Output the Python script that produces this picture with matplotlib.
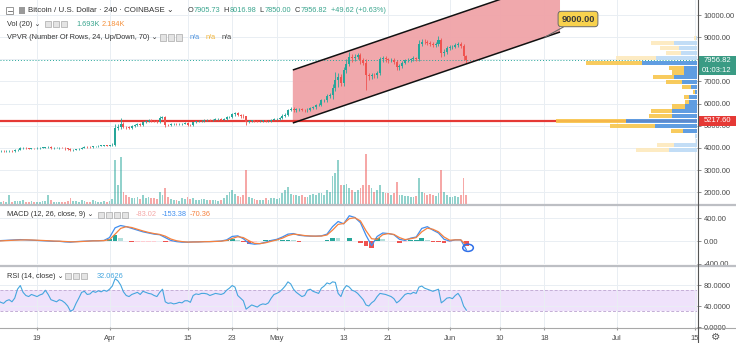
import numpy as np
import pandas as pd
import matplotlib
matplotlib.use("Agg")
import matplotlib.pyplot as plt
import matplotlib.dates as mdates
from matplotlib.patches import Rectangle, Ellipse, Polygon

plt.rcParams['font.family'] = ['Liberation Sans', 'DejaVu Sans']

W, H = 736, 343

# --- BTC/USD 12h candles, 2019-03-12 .. 2019-06-04 ---
first_open = 3860
closes = [
    3870, 3880, 3860, 3870, 3880, 3860, 3900, 3920, 3990, 4000,
    3980, 3970, 3990, 3980, 4000, 4010, 4020, 4030, 4050, 3990,
    4000, 4000, 4010, 4005, 3990, 3970, 3900, 3920, 3940, 3960,
    4010, 4050, 4040, 4030, 4080, 4090, 4100, 4110, 4110, 4100,
    4120, 4150, 4900, 4950, 5100, 4950, 4930, 4910, 5000, 5030,
    5060, 5050, 5180, 5200, 5250, 5230, 5200, 5180, 5350, 5380,
    5050, 5040, 5070, 5080, 5070, 5070, 5100, 5140, 5050, 5020,
    5150, 5200, 5220, 5230, 5260, 5270, 5250, 5270, 5300, 5310,
    5280, 5300, 5380, 5400, 5520, 5580, 5500, 5450, 5420, 5180,
    5220, 5250, 5230, 5220, 5220, 5240, 5200, 5220, 5280, 5300,
    5320, 5340, 5450, 5500, 5700, 5780, 5700, 5750, 5760, 5720,
    5700, 5730, 5820, 5840, 5930, 5960, 6150, 6170, 6350, 6380,
    6700, 7050, 7200, 6950, 7500, 7800, 8100, 8050, 8100, 8200,
    7950, 7850, 7300, 7250, 7300, 7270, 7400, 8000, 8050, 8000,
    7950, 7980, 7900, 7650, 7700, 7850, 7950, 7980, 8000, 8050,
    8020, 8700, 8800, 8780, 8750, 8700, 8650, 8680, 8850, 8300,
    8350, 8500, 8550, 8570, 8650, 8700, 8600, 8150, 7956.82,
]
# wick length above / below the candle body
wick_hi = [
    30, 20, 25, 20, 30, 25, 35, 20, 40, 30, 25, 20, 30, 25, 40, 30, 20, 25, 30, 20,
    25, 30, 40, 20, 25, 30, 35, 20, 25, 30, 20, 25, 30, 40, 25, 20, 30, 25, 20, 30,
    30, 60, 180, 130, 250, 80, 60, 50, 50, 40, 60, 50, 40, 50, 60, 40, 50, 40, 90, 60,
    40, 30, 40, 30, 50, 40, 30, 40, 50, 30, 40, 30, 30, 40, 30, 30, 40, 30, 30, 40,
    30, 40, 50, 60, 70, 50, 40, 40, 60, 40, 40, 30, 30, 30, 40, 30, 30, 40, 40, 30,
    30, 50, 60, 80, 80, 60, 50, 40, 60, 50, 50, 60, 40, 50, 60, 50, 80, 60, 100, 80,
    200, 380, 200, 120, 150, 200, 230, 150, 120, 100, 100, 120, 150, 100, 100, 80, 80, 100, 120, 100,
    80, 100, 100, 80, 90, 80, 70, 80, 80, 90, 60, 150, 120, 100, 100, 80, 90, 80, 220, 100,
    120, 100, 90, 80, 100, 90, 80, 100, 60,
]
wick_lo = [
    20, 30, 25, 20, 30, 20, 25, 30, 20, 25, 30, 20, 25, 30, 20, 40, 30, 25, 20, 30,
    25, 20, 30, 25, 60, 50, 30, 25, 20, 30, 25, 20, 30, 25, 20, 30, 25, 20, 30, 25,
    30, 40, 60, 100, 100, 70, 60, 50, 50, 40, 50, 40, 40, 50, 40, 40, 50, 40, 40, 50,
    120, 40, 40, 40, 30, 40, 40, 30, 80, 40, 40, 30, 30, 30, 40, 30, 30, 40, 30, 30,
    40, 30, 30, 40, 40, 60, 60, 80, 60, 140, 60, 50, 40, 50, 40, 40, 50, 40, 30, 40,
    30, 40, 40, 50, 60, 50, 60, 80, 70, 60, 60, 70, 50, 60, 60, 50, 80, 90, 90, 100,
    150, 120, 300, 150, 150, 100, 120, 150, 130, 100, 150, 120, 700, 200, 150, 120, 120, 100, 100, 120,
    100, 90, 120, 150, 120, 100, 80, 90, 90, 80, 100, 90, 100, 90, 100, 110, 100, 90, 100, 200,
    150, 100, 90, 90, 80, 90, 100, 200, 110,
]
volume_k = [
    1.0, 0.8, 0.9, 0.7, 2.8, 0.8, 1.0, 0.9, 1.0, 1.3,
    0.8, 0.7, 0.9, 0.8, 0.8, 0.7, 1.0, 0.9, 3.0, 1.2,
    0.8, 0.7, 0.7, 0.6, 0.8, 1.0, 2.0, 1.1, 1.0, 0.8,
    1.3, 1.1, 0.8, 0.7, 1.3, 1.0, 0.8, 0.7, 0.9, 0.8,
    1.0, 1.5, 14.0, 6.0, 15.0, 4.0, 3.0, 2.2, 2.0, 1.8,
    2.4, 1.5, 2.8, 1.8, 2.2, 1.8, 2.0, 1.6, 4.0, 3.0,
    5.0, 2.2, 1.6, 1.4, 1.2, 1.1, 2.0, 1.5, 2.4, 1.6,
    1.9, 1.4, 1.4, 1.7, 1.6, 1.3, 1.3, 1.2, 1.2, 1.1,
    1.4, 2.0, 3.0, 4.0, 4.5, 3.2, 2.6, 2.2, 3.0, 11.0,
    2.4, 2.0, 1.6, 1.4, 1.4, 1.3, 1.9, 1.4, 1.8, 1.9,
    1.6, 2.0, 3.5, 4.5, 5.5, 3.2, 3.0, 2.8, 2.6, 3.0,
    2.4, 2.2, 2.8, 3.2, 3.0, 3.4, 3.5, 3.0, 4.5, 4.0,
    9.0, 10.0, 14.0, 6.0, 6.0, 6.5, 5.0, 4.5, 4.0, 4.5,
    5.0, 6.0, 16.0, 6.0, 5.0, 4.0, 4.5, 6.0, 4.0, 3.5,
    3.5, 3.0, 3.5, 7.0, 3.0, 2.8, 2.5, 2.6, 2.2, 2.4,
    2.5, 8.5, 4.0, 3.5, 3.0, 3.2, 2.8, 2.6, 3.5, 11.0,
    4.0, 3.0, 2.4, 2.2, 2.6, 2.4, 2.8, 8.5, 3.0,
]
rsi = [
    50, 47, 45, 50, 52, 48, 55, 72, 79, 66,
    60, 58, 62, 60, 58, 61, 63, 70, 62, 52,
    50, 48, 52, 50, 46, 40, 30, 33, 45, 55,
    66, 68, 62, 63, 68, 66, 69, 67, 70, 68,
    72, 78, 92, 88, 80, 67, 60, 58, 62, 64,
    66, 62, 68, 66, 64, 63, 60, 58, 66, 72,
    48, 45, 46, 44, 45, 47, 46, 50, 50, 47,
    60, 63, 62, 64, 64, 63, 60, 62, 64, 63,
    62, 64, 70, 74, 79, 76, 60, 55, 50, 34,
    38, 42, 40, 38, 42, 44, 43, 46, 55, 62,
    64, 67, 72, 78, 86, 82, 72, 66, 62, 58,
    60, 70, 72, 68, 66, 64, 74, 78, 84, 82,
    86, 85, 64, 58, 72, 79, 76, 70, 68, 64,
    58, 52, 42, 40, 46, 50, 58, 64, 63, 62,
    60, 58, 54, 46, 50, 56, 62, 64, 63, 66,
    64, 76, 78, 74, 72, 70, 68, 70, 72, 46,
    50, 55, 56, 54, 60, 64, 56, 40, 32.0626,
]

# --- MACD (12, 26, close, 9), daily points ---
macd_line = [
    5, 10, 15, 20, 25, 20, 15, 10, 5, 0,
    -5, -5, -15, -20, -10, -5, 0, 5, 5, 10,
    60, 230, 270, 250, 220, 190, 160, 140, 120, 110,
    60, 10, -10, -20, -20, -15, -15, -10, -10, -5,
    0, 20, 80, 90, 40, -40, -55, -45, -20, 10,
    30, 70, 120, 130, 100, 90, 85, 85, 90, 120,
    250, 340, 300, 440, 410, 320, 100, -80, 80, 140,
    130, 110, 30, 10, 50, 70, 220, 250, 190, 140,
    30, 0, 20, 20, -153.38,
]
signal_line = [
    0, 5, 10, 15, 18, 20, 18, 14, 10, 5,
    0, -3, -8, -13, -13, -8, -3, 2, 4, 7,
    25, 120, 220, 250, 235, 205, 175, 150, 130, 115,
    85, 35, 5, -10, -18, -17, -15, -12, -10, -7,
    -3, 10, 45, 75, 60, 5, -40, -45, -30, -5,
    20, 50, 95, 120, 110, 95, 88, 85, 87, 105,
    190, 290, 305, 390, 405, 350, 180, 40, 30, 110,
    130, 115, 60, 25, 40, 60, 160, 225, 205, 160,
    70, 15, 20, 20, -70.36,
]

# --- VPVR, 24 rows from high to low: up / down volume per row ---
vp_up = [1, 23, 18, 16, 41, 55, 13, 13, 23, 15, 6, 2, 8, 8, 12, 25, 25, 71, 42, 14, 2, 1, 23, 28]
vp_down = [2, 23, 19, 15, 40, 56, 15, 12, 21, 16, 9, 2, 5, 4, 13, 21, 23, 70, 45, 12, 0, 0, 17, 33]
vp_value_area = [False] * 5 + [True] * 15 + [False] * 4
vp_low, vp_high = 3784, 9054

# --- drawings ---
hline_price = 5217.60
last_price = 7956.82
channel_dates = ["2019-05-03 21:00", "2019-06-20 19:00"]
channel_lower = [5126, 9233]
channel_upper = [7518, 11625]
target_price = 9000.00

candle_dates = pd.date_range("2019-03-12", periods=len(closes), freq="12h")
macd_dates = pd.date_range("2019-03-12", periods=len(macd_line), freq="D")
tick_dates = ["2019-03-19", "2019-04-01", "2019-04-15", "2019-04-23", "2019-05-01", "2019-05-13",
              "2019-05-21", "2019-06-01", "2019-06-10", "2019-06-18", "2019-07-01", "2019-07-15"]
tick_labels = ["19", "Apr", "15", "23", "May", "13", "21", "Jun", "10", "18", "Jul", "15"]

UP = "#26a69a"
DOWN = "#ef5350"
GRID = "#e9eef3"
AXTXT = "#4a4a4a"
FS = 5.5
LEG = 5.3


def fbox(x0, y0, x1, y1):
    return [x0 / W, 1 - y1 / H, (x1 - x0) / W, (y1 - y0) / H]


def ftext(x, y, s, color=AXTXT, size=LEG, **kw):
    return fig.text(x / W, 1 - y / H, s, color=color, fontsize=size, va="center", **kw)


def frect(x0, y0, x1, y1, fc, ec="none", lw=0.6):
    fig.add_artist(Rectangle((x0 / W, 1 - y1 / H), (x1 - x0) / W, (y1 - y0) / H,
                             transform=fig.transFigure, fc=fc, ec=ec, lw=lw))


def fline(x0, y0, x1, y1, color, lw):
    fig.add_artist(plt.Line2D([x0 / W, x1 / W], [1 - y0 / H, 1 - y1 / H],
                              transform=fig.transFigure, color=color, lw=lw))


def icons(x, y, n):
    for k in range(n):
        frect(x + k * 8, y - 3, x + k * 8 + 6, y + 3, "#e4e4e4", "#a9a9a9", 0.5)


fig = plt.figure(figsize=(W / 100, H / 100), dpi=100)
ax = fig.add_axes(fbox(0, 0, 697, 204))
ax_macd = fig.add_axes(fbox(0, 206, 697, 264), sharex=ax)
ax_rsi = fig.add_axes(fbox(0, 267, 697, 327), sharex=ax)

x0 = mdates.date2num(pd.Timestamp("2019-03-12"))
px_per_day = 5.576
xlim = (x0 + 0.36, x0 + 0.36 + 697 / px_per_day)
ticks = mdates.date2num(pd.to_datetime(tick_dates))

for a in (ax, ax_macd, ax_rsi):
    for s in a.spines.values():
        s.set_visible(False)
    a.yaxis.tick_right()
    a.tick_params(axis="y", length=3, width=0.6, color="#777", labelsize=FS, labelcolor=AXTXT, pad=2)
    a.tick_params(axis="x", length=0, labelbottom=False)
    a.set_xticks(ticks)
    a.grid(True, color=GRID, lw=0.7)
    a.set_axisbelow(True)
ax.set_xlim(*xlim)

# ---- price pane ----
x = mdates.date2num(candle_dates)
c = np.array(closes, dtype=float)
o = np.concatenate([[first_open], c[:-1]])
hi = np.maximum(o, c) + np.array(wick_hi)
lo = np.minimum(o, c) - np.array(wick_lo)
cols = np.where(c >= o, UP, DOWN)

# volume in the bottom quarter of the pane
vol = np.array(volume_k)
ax.bar(x, vol / (vol.max() * 4.1), width=0.32, bottom=0, color=cols, alpha=0.5, lw=0,
       transform=ax.get_xaxis_transform(), zorder=1.5)

# channel
cx = mdates.date2num(pd.to_datetime(channel_dates))
ax.add_patch(Polygon([(cx[0], channel_upper[0]), (cx[1], channel_upper[1]),
                      (cx[1], channel_lower[1]), (cx[0], channel_lower[0])],
                     fc="#f0a3a8", ec="none", alpha=0.95, zorder=1.2))
ax.plot(cx, channel_lower, color="#111", lw=1.1, zorder=4, solid_capstyle="butt")
ax.plot(cx, channel_upper, color="#111", lw=1.1, zorder=4, solid_capstyle="butt")

ax.axhline(hline_price, color="#e53935", lw=1.6, zorder=2)
ax.axhline(last_price, color=UP, lw=0.7, ls=(0, (1, 2)), zorder=2)

ax.vlines(x, lo, hi, color=cols, lw=0.6, zorder=3)
ax.bar(x, np.maximum(np.abs(c - o), 15), bottom=np.minimum(o, c), width=0.36,
       color=cols, lw=0, zorder=3)

# volume profile, anchored to the right edge
row_h = (vp_high - vp_low) / len(vp_up)
tot = np.array(vp_up) + np.array(vp_down)
max_w = 141 / 697
ytr = ax.get_yaxis_transform()
for k in range(len(vp_up)):
    top = vp_high - k * row_h
    y0 = top - row_h + row_h * 0.08
    hgt = row_h * 0.84
    wu = vp_up[k] / tot.max() * max_w
    wd = vp_down[k] / tot.max() * max_w
    bright = vp_value_area[k]
    ax.add_patch(Rectangle((1 - wu, y0), wu, hgt, transform=ytr, lw=0, zorder=3.5,
                           fc="#4f93de" if bright else "#bcdaf5", alpha=0.9))
    ax.add_patch(Rectangle((1 - wu - wd, y0), wd, hgt, transform=ytr, lw=0, zorder=3.5,
                           fc="#f8c64c" if bright else "#fde9bd", alpha=0.9))

# target label on the lower channel line
tx = np.interp(target_price, channel_lower, cx)
ax.annotate(f"{target_price:.2f}", xy=(tx, target_price), xytext=(578, H - 19),
            textcoords="figure pixels", ha="center", va="center", fontsize=6.6,
            fontweight="bold", color="#3a3a3a", zorder=6, annotation_clip=False,
            bbox=dict(boxstyle="round,pad=0.35", fc="#f8d24e", ec="#6a6a6a", lw=0.7),
            arrowprops=dict(arrowstyle="-", color="#6a6a6a", lw=0.8, shrinkA=0, shrinkB=0))

ax.set_ylim(1471, 10677)
ax.set_yticks(np.arange(2000, 10001, 1000))
ax.yaxis.set_major_formatter(matplotlib.ticker.FormatStrFormatter("%.2f"))

# ---- MACD pane ----
mx = mdates.date2num(macd_dates)
m = np.array(macd_line, dtype=float)
s = np.array(signal_line, dtype=float)
hist = m - s
prev = np.concatenate([[0], hist[:-1]])
hcols = np.where(hist >= 0, np.where(hist >= prev, "#26a69a", "#b2dfdb"),
                 np.where(hist < prev, "#ef5350", "#ffcdd2"))
ax_macd.bar(mx, hist, width=0.85, color=hcols, lw=0, zorder=2)
ax_macd.plot(mx, m, color="#3f8ef0", lw=0.9, zorder=3)
ax_macd.plot(mx, s, color="#f5813f", lw=0.9, zorder=3)
ax_macd.add_patch(Ellipse((mx[-1] + 0.3, -118), 1.9, 125, fill=False, ec="#2f6fe8", lw=1.1, zorder=4))
ax_macd.set_ylim(-400, 610)
ax_macd.set_yticks([-400, 0, 400])
ax_macd.yaxis.set_major_formatter(matplotlib.ticker.FormatStrFormatter("%.2f"))

# ---- RSI pane ----
ax_rsi.axhspan(30, 70, color="#efe2fb", lw=0, zorder=0.5)
ax_rsi.axhline(70, color="#c4aed6", lw=0.7, ls=(0, (3, 2)), zorder=1)
ax_rsi.axhline(30, color="#c4aed6", lw=0.7, ls=(0, (3, 2)), zorder=1)
ax_rsi.plot(x, rsi, color="#45a6de", lw=0.8, zorder=3)
ax_rsi.set_ylim(0, 114.3)
ax_rsi.set_yticks([0, 40, 80])
ax_rsi.yaxis.set_major_formatter(matplotlib.ticker.FormatStrFormatter("%.4f"))
ax_rsi.tick_params(axis="x", labelbottom=True, length=2, color="#999", labelsize=FS,
                   labelcolor=AXTXT, pad=4)
ax_rsi.set_xticklabels(tick_labels)
ax.set_xlim(*xlim)

# ---- frame lines ----
fline(0, 205, W, 205, "#bdbfc4", 1.6)
fline(0, 265.5, W, 265.5, "#bdbfc4", 1.6)
fline(0, 327.5, W, 327.5, "#a8a8a8", 0.8)
fline(697.5, 0, 697.5, H, "#555555", 0.8)

# ---- price axis tags ----
frect(698, 56, 736, 65.5, "#3a9b84")
ftext(717, 60.8, "7956.82", "white", size=FS, ha="center")
frect(698, 65.5, 736, 75, "#3a9b84")
ftext(717, 70.3, "01:03:12", "white", size=FS, ha="center")
frect(698, 116, 736, 125.5, "#e53935")
ftext(717, 120.8, "5217.60", "white", size=FS, ha="center")
ftext(716, 336.5, "⚙", "#555", size=7.5, ha="center", family=["DejaVu Sans"])

# ---- legends ----
frect(6, 7, 13, 14, "white", "#888", 0.6)
fline(7.5, 10.5, 11.5, 10.5, "#666", 0.6)
frect(19, 7, 25, 14, "#9a9a9a")
ftext(28, 11, "Bitcoin / U.S. Dollar · 240 · COINBASE ⌄", "#333", size=5.7,
      family=["Liberation Sans", "DejaVu Sans"])
rend = fig.canvas.get_renderer()
xx = 188
for txt, col in [("O", "#333"), ("7905.73", "#3aa58e"), ("  H", "#333"), ("8016.98", "#3aa58e"),
                 ("  L", "#333"), ("7850.00", "#3aa58e"), ("  C", "#333"), ("7956.82", "#3aa58e"),
                 ("  +49.62 (+0.63%)", "#3aa58e")]:
    t = ftext(xx, 11, txt, col, size=5.3)
    xx += t.get_window_extent(rend).width

ftext(7, 24, "Vol (20) ⌄", "#333", family=["Liberation Sans", "DejaVu Sans"])
icons(45, 24, 3)
ftext(76, 24, "1.693K", "#3aa58e")
ftext(102, 24, "2.184K", "#f5923e")

ftext(7, 37.5, "VPVR (Number Of Rows, 24, Up/Down, 70) ⌄", "#333",
      family=["Liberation Sans", "DejaVu Sans"])
icons(160, 37.5, 3)
ftext(190, 37.5, "n/a", "#4f93de")
ftext(206, 37.5, "n/a", "#f0b43a")
ftext(222, 37.5, "n/a", "#444")

ftext(7, 215, "MACD (12, 26, close, 9) ⌄", "#333", family=["Liberation Sans", "DejaVu Sans"])
icons(98, 215, 4)
ftext(136, 215, "-83.02", "#f4a7a7")
ftext(162, 215, "-153.38", "#3f8ef0")
ftext(190, 215, "-70.36", "#f5813f")

ftext(7, 276, "RSI (14, close) ⌄", "#333", family=["Liberation Sans", "DejaVu Sans"])
icons(65, 276, 3)
ftext(97, 276, "32.0626", "#45a6de")

fig.savefig("out.png", dpi=100, facecolor="white")
